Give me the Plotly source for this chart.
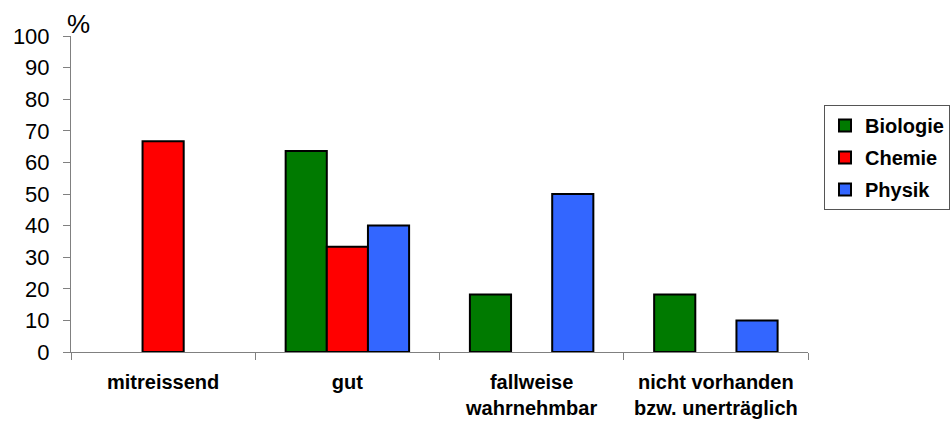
import plotly.graph_objects as go

# Ratings of how the subject is experienced, share of answers in percent
categories = ["mitreissend", "gut", "fallweise<br>wahrnehmbar", "nicht vorhanden<br>bzw. unerträglich"]
biologie = [0, 63.6, 18.2, 18.2]
chemie = [66.7, 33.3, 0, 0]
physik = [0, 40, 50, 10]

series = [
    ("Biologie", biologie, "#007A00"),
    ("Chemie", chemie, "#FF0000"),
    ("Physik", physik, "#3366FF"),
]

fig = go.Figure()
for name, vals, color in series:
    # empty answers get no bar at all (avoids a flat outline on the axis)
    shown = [v if v > 0 else None for v in vals]
    fig.add_trace(go.Bar(
        name=name,
        x=categories,
        y=shown,
        marker=dict(color=color, line=dict(color="black", width=2)),
        legendgroup=name,
    ))

font_family = "Liberation Sans, Arial, sans-serif"

fig.update_layout(
    width=950,
    height=425,
    margin=dict(l=71, r=142, t=36, b=73),
    paper_bgcolor="white",
    plot_bgcolor="white",
    barmode="group",
    bargap=0.33,
    bargroupgap=0,
    font=dict(family=font_family, color="black"),
    showlegend=True,
    legend=dict(
        xref="container",
        yref="container",
        x=824 / 950,
        xanchor="left",
        y=1 - 105 / 425,
        yanchor="top",
        bordercolor="#555555",
        borderwidth=1,
        bgcolor="white",
        font=dict(size=20, family=font_family, color="black", weight="bold"),
        tracegroupgap=3,
        itemwidth=30,
    ),
    xaxis=dict(
        automargin=False,
        showline=True,
        linecolor="#808080",
        linewidth=1,
        ticks="outside",
        tickson="boundaries",
        ticklen=7,
        tickcolor="#808080",
        ticklabelstandoff=12,
        tickfont=dict(size=20, family=font_family, color="black", weight="bold"),
        showgrid=False,
        zeroline=False,
        fixedrange=True,
    ),
    yaxis=dict(
        automargin=False,
        range=[0, 100],
        tickvals=list(range(0, 101, 10)),
        showline=True,
        linecolor="#808080",
        linewidth=1,
        ticks="outside",
        ticklen=7,
        tickcolor="#808080",
        ticklabelstandoff=9,
        tickfont=dict(size=22, family=font_family, color="black"),
        showgrid=False,
        zeroline=False,
        fixedrange=True,
    ),
    annotations=[
        dict(
            text="%",
            xref="paper",
            yref="paper",
            x=0,
            y=1,
            xanchor="left",
            yanchor="bottom",
            xshift=-6,
            yshift=-5,
            showarrow=False,
            font=dict(size=26, family=font_family, color="black"),
        )
    ],
)

fig.write_html("out.html")
